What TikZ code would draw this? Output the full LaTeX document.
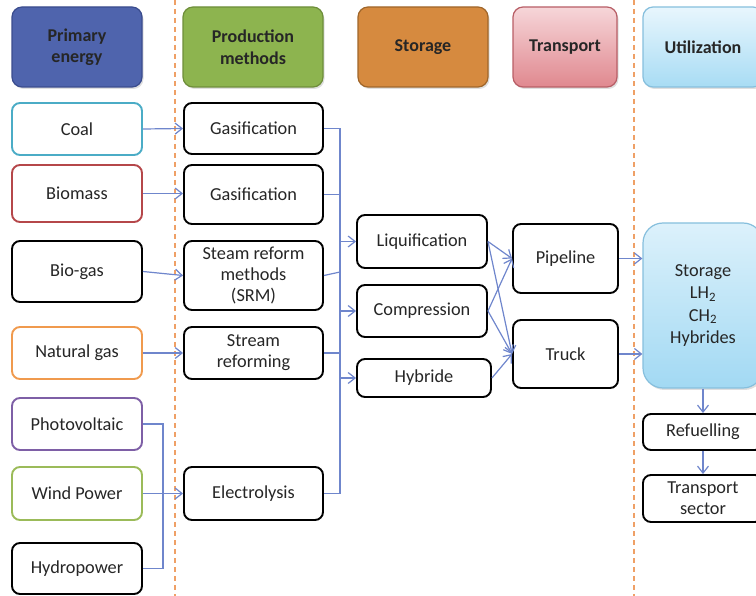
\documentclass[tikz,border=0pt]{standalone}
\usepackage{fontspec}
\setmainfont{Carlito}
\usetikzlibrary{arrows.meta,shadows}
\definecolor{txt}{HTML}{262626}
\definecolor{lnk}{HTML}{6F86CC}
\definecolor{dsh}{HTML}{EFA066}
\definecolor{primF}{HTML}{4F64AD}\definecolor{primD}{HTML}{3A4C8E}
\definecolor{prodF}{HTML}{8DB44F}\definecolor{prodD}{HTML}{6E8E3A}
\definecolor{storF}{HTML}{D68A3F}\definecolor{storD}{HTML}{A0662A}
\definecolor{trT}{HTML}{F6D6D9}\definecolor{trB}{HTML}{E0888F}\definecolor{trD}{HTML}{B85E66}
\definecolor{utT}{HTML}{E8F6FD}\definecolor{utB}{HTML}{A8DCF4}\definecolor{utD}{HTML}{86BFDD}
\definecolor{ubT}{HTML}{DCF1FB}\definecolor{ubB}{HTML}{A2D9F3}
\definecolor{cCoal}{HTML}{4BACC6}
\definecolor{cBio}{HTML}{B5474A}
\definecolor{cNg}{HTML}{F09A4E}
\definecolor{cPv}{HTML}{7E5FA6}
\definecolor{cWind}{HTML}{9BBB59}
\tikzset{
  box/.style={draw=black, line width=1.9pt, rounded corners=8pt, fill=white, text=txt,
    font=\fontsize{18.3}{21}\selectfont, align=center, inner sep=2pt},
  head/.style={rounded corners=10pt, line width=1.2pt, align=center, text=txt,
    font=\fontsize{18}{21.5}\selectfont\bfseries, minimum height=80pt,
    drop shadow={opacity=0.25, shadow xshift=1.5pt, shadow yshift=-2pt}},
  link/.style={draw=lnk, line width=1.2pt},
  arr/.style={link, -{Straight Barb[length=7pt,width=11pt]}},
  sep/.style={draw=dsh, line width=1.4pt, dash pattern=on 5pt off 4pt},
}
\begin{document}
\begin{tikzpicture}[x=1pt,y=-1pt]
\useasboundingbox (0,0) rectangle (756,596);
\clip (0,0) rectangle (756,596);
% separators
\draw[sep] (175,0) -- (175,596);
\draw[sep] (634,0) -- (634,596);
% headers
\node[head, fill=primF, draw=primD, minimum width=130pt] (hprim) at (77,47) {Primary\\energy};
\node[head, fill=prodF, draw=prodD, minimum width=140pt] (hprod) at (253,47) {Production\\methods};
\node[head, fill=storF, draw=storD, minimum width=130pt] (hstor) at (423,47) {Storage};
\node[head, top color=trT, bottom color=trB, draw=trD, minimum width=104pt] (htrans) at (565,47) {Transport};
\node[head, top color=utT, bottom color=utB, draw=utD, minimum width=120pt] (hutil) at (703,47) {Utilization};
% primary energy
\node[box, draw=cCoal, minimum width=130pt, minimum height=52pt] (coal) at (77,129) {Coal};
\node[box, draw=cBio, minimum width=130pt, minimum height=57pt] (bio) at (77,193.5) {Biomass};
\node[box, minimum width=130pt, minimum height=61pt] (biogas) at (77,271.5) {Bio-gas};
\node[box, draw=cNg, minimum width=130pt, minimum height=52pt] (ng) at (77,353) {Natural gas};
\node[box, draw=cPv, minimum width=130pt, minimum height=52pt] (pv) at (77,424) {Photovoltaic};
\node[box, draw=cWind, minimum width=130pt, minimum height=53pt] (wind) at (77,493.5) {Wind Power};
\node[box, minimum width=130pt, minimum height=51pt] (hydro) at (77,568.5) {Hydropower};
% production
\node[box, minimum width=139pt, minimum height=51pt] (g1) at (253.5,128.5) {Gasification};
\node[box, minimum width=139pt, minimum height=59pt] (g2) at (253.5,194.5) {Gasification};
\node[box, minimum width=139pt, minimum height=69pt] (srm) at (253.5,275.5) {Steam reform\\methods\\(SRM)};
\node[box, minimum width=139pt, minimum height=52pt] (sr) at (253.5,353) {Stream\\reforming};
\node[box, minimum width=139pt, minimum height=53pt] (elec) at (253.5,493.5) {Electrolysis};
% storage
\node[box, minimum width=130pt, minimum height=53pt] (liq) at (422,241.5) {Liquification};
\node[box, minimum width=130pt, minimum height=52pt] (comp) at (422,311) {Compression};
\node[box, minimum width=134pt, minimum height=38pt] (hyb) at (424,378) {Hybride};
% transport
\node[box, minimum width=105pt, minimum height=69pt] (pipe) at (565.5,258.5) {Pipeline};
\node[box, minimum width=105pt, minimum height=68pt] (truck) at (565.5,354) {Truck};
% utilization
\node[rounded corners=20pt, line width=1.2pt, top color=ubT, bottom color=ubB, draw=utD,
  minimum width=120pt, minimum height=165pt, align=center, text=txt, font=\fontsize{18.3}{22.5}\selectfont,
  drop shadow={opacity=0.25, shadow xshift=1.5pt, shadow yshift=-2pt}] (util) at (703,305.5)
  {Storage\\LH\textsubscript{2}\\CH\textsubscript{2}\\Hybrides};
\node[box, minimum width=120pt, minimum height=36pt] (refuel) at (703,432) {Refuelling};
\node[box, minimum width=120pt, minimum height=47pt] (tsec) at (703,498.5) {Transport\\sector};
% primary -> production
\draw[arr] (coal.east) -- (g1.west);
\draw[arr] (bio.east) -- (bio.east -| g2.west);
\draw[arr] (biogas.east) -- (srm.west);
\draw[arr] (ng.east) -- (sr.west);
\draw[arr] (wind.east) -- (elec.west);
\coordinate (pvx) at (163,424);
\draw[link] (pv.east) -- (pvx) |- (hydro.east);
% bus
\coordinate (bt) at (340,128.5);
\coordinate (bb) at (340,493.5);
\coordinate (bsrm) at (340,272);
\draw[link] (g1.east) -- (bt) -- (bb) -- (elec.east);
\draw[link] (g2.east) -- (g2.east -| bt);
\draw[link] (srm.east) -- (bsrm);
\draw[link] (sr.east) -- (sr.east -| bt);
\draw[arr] (liq.west -| bt) -- (liq.west);
\draw[arr] (comp.west -| bt) -- (comp.west);
\draw[arr] (hyb.west -| bt) -- (hyb.west);
% storage -> transport
\draw[arr] (liq.east) -- (pipe.west);
\draw[arr] (liq.east) -- (truck.west);
\draw[arr] (comp.east) -- (pipe.west);
\draw[arr] (comp.east) -- (truck.west);
\draw[arr] (hyb.east) -- (truck.west);
% transport -> utilization
\draw[arr] (pipe.east) -- (pipe.east -| util.west);
\draw[arr] (truck.east) -- (truck.east -| util.west);
\draw[arr] (util.south) -- (refuel.north);
\draw[arr] (refuel.south) -- (tsec.north);
\end{tikzpicture}
\end{document}
